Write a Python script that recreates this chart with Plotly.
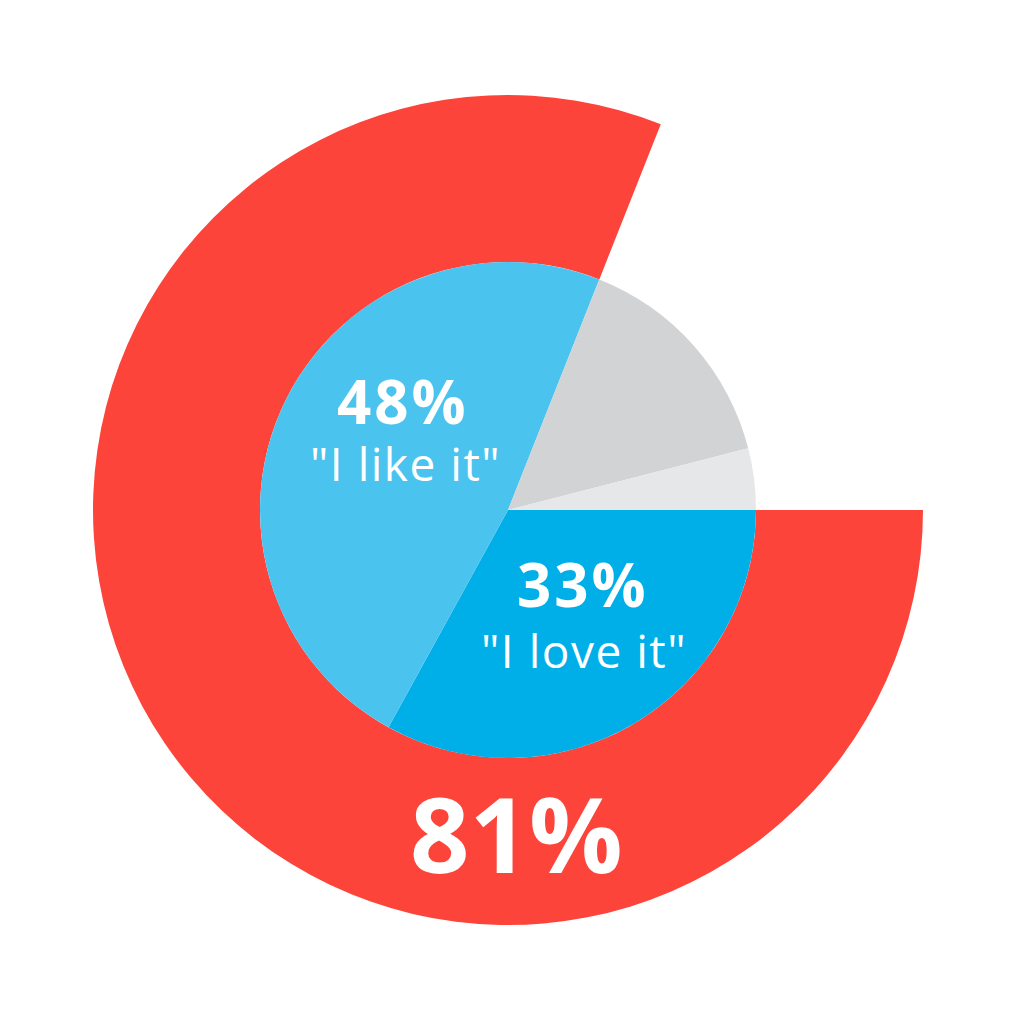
import plotly.graph_objects as go

# data
outer_labels = ["Positive", ""]
outer_values = [81, 19]
inner_labels = ['"I love it"', '"I like it"', "Neutral", "Negative"]
inner_values = [33, 48, 15, 4]

RED = "#FC443A"
LIGHT_BLUE = "#4BC3EF"
DARK_BLUE = "#00AEE8"
GRAY = "#D1D3D4"
LIGHT_GRAY = "#E6E7E8"

W, H = 1016, 1024
OFF = 8  # page body margin
cx, cy = 508 - OFF, 510 - OFF
r_out, r_in = 415, 248


def dom(r):
    return dict(x=[(cx - r) / W, (cx + r) / W],
                y=[(H - cy - r) / H, (H - cy + r) / H])


fig = go.Figure()
fig.add_trace(go.Pie(
    labels=outer_labels, values=outer_values, hole=r_in / r_out,
    sort=False, direction="clockwise", rotation=90,
    marker=dict(colors=[RED, "rgba(0,0,0,0)"], line=dict(width=0)),
    textinfo="none", hoverinfo="skip", domain=dom(r_out), showlegend=False,
))
fig.add_trace(go.Pie(
    labels=inner_labels, values=inner_values,
    sort=False, direction="clockwise", rotation=90,
    marker=dict(colors=[DARK_BLUE, LIGHT_BLUE, GRAY, LIGHT_GRAY], line=dict(width=0)),
    textinfo="none", hoverinfo="skip", domain=dom(r_in), showlegend=False,
))


def label(x, y, text, size, bold, spacing=0):
    if spacing:
        text = f'<span style="letter-spacing:{spacing}px">{text}</span>'
    fig.add_annotation(
        x=(x - OFF) / W, y=1 - (y - OFF) / H, xref="paper", yref="paper", text=text,
        showarrow=False, xanchor="center", yanchor="middle",
        font=dict(family="Open Sans", size=size, color="white",
                  weight="bold" if bold else "normal"),
    )


label(403, 401, f"{inner_values[1]}%", 60, True, 3)
label(405, 463, inner_labels[1], 46, False, 1.5)
label(583, 584, f"{inner_values[0]}%", 60, True, 3)
label(584, 650, inner_labels[0], 46, False, 1.5)
label(516, 832, f"{outer_values[0]}%", 104, True)

fig.update_layout(
    width=W, height=H, margin=dict(l=0, r=0, t=0, b=0),
    paper_bgcolor="white", plot_bgcolor="white",
)

fig.write_html("out.html")
